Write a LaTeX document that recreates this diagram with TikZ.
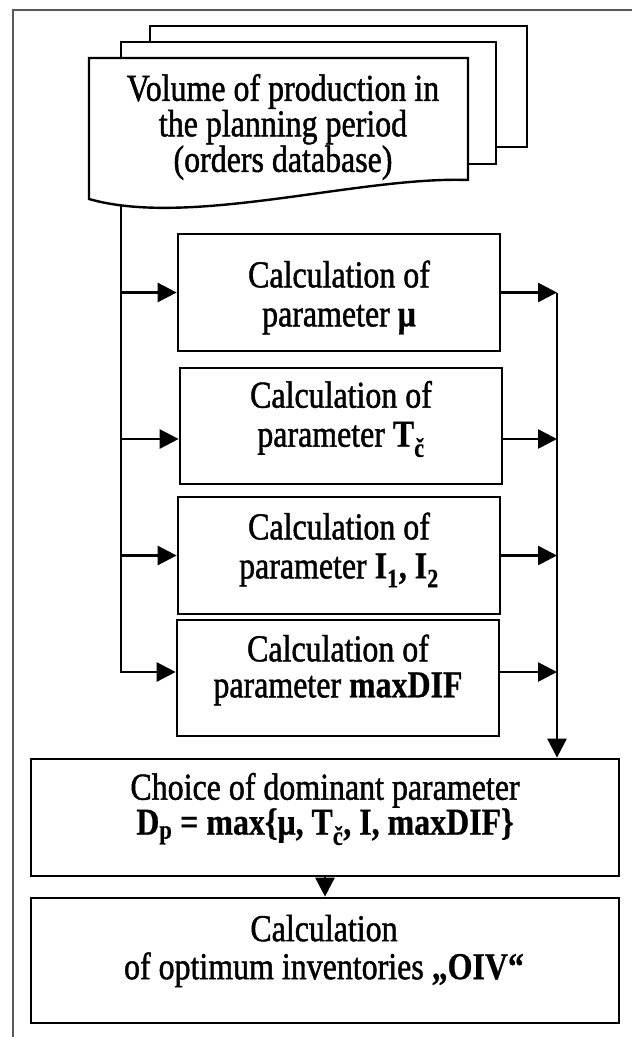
\documentclass[tikz,border=0pt]{standalone}
\usepackage{fontspec}
\setmainfont{Liberation Serif}[FakeStretch=0.84, UprightFeatures={FakeBold=1.2}, BoldFeatures={FakeBold=0.6}]
\usetikzlibrary{arrows.meta}
\begin{document}
\begin{tikzpicture}[x=1pt,y=-1pt,
  line/.style={line width=2.7pt, black},
  docline/.style={line width=2.4pt, black, fill=white, line join=miter},
  box/.style={draw, line width=2.7pt, inner sep=0pt},
  arr/.style={line, -{Triangle[length=19pt,width=19pt]}},
  txt/.style={align=center, inner sep=0pt},
  frameline/.style={line width=1.6pt, black!65}
]
\useasboundingbox (0,0) rectangle (632,1037);

% outer frame (top and left edges)
\draw[frameline] (13,1037) -- (13,10) -- (632,10);

% stack of documents: orders database
\draw[docline] (150,26) rectangle (527,147);
\draw[docline] (121,42) rectangle (496,164);
\draw[docline] (89,199) -- (89,58) -- (468,58) -- (468,180)
  .. controls (360,176) and (190,228) .. (89,199) -- cycle;
\node[txt, font=\fontsize{38}{31}\selectfont] (doctext) at (283,127)
  {Volume of production in\\the planning period\\(orders database)};
\coordinate (docfoot) at (121,205.4);

% parameter calculation boxes
\node[box, minimum width=322pt, minimum height=117pt] (mu)  at (339,292.5) {};
\node[box, minimum width=322pt, minimum height=116pt] (tc)  at (341,426) {};
\node[box, minimum width=322pt, minimum height=117pt] (ii)  at (339,555.5) {};
\node[box, minimum width=322pt, minimum height=116pt] (dif) at (338,678) {};

\node[txt, font=\fontsize{38}{39}\selectfont] (mutext) at (339,297.5)
  {Calculation of\\parameter \textbf{μ}};
\node[txt, font=\fontsize{38}{39}\selectfont] (tctext) at (341,419)
  {Calculation of\\parameter \textbf{T\textsubscript{č}}};
\node[txt, font=\fontsize{38}{39}\selectfont] (iitext) at (339,550)
  {Calculation of\\parameter \textbf{I\textsubscript{1}, I\textsubscript{2}}};
\node[txt, font=\fontsize{38}{36}\selectfont] (diftext) at (338,670)
  {Calculation of\\parameter \textbf{maxDIF}};

% final boxes
\node[box, minimum width=588pt, minimum height=117pt] (choice) at (325,817.5) {};
\node[box, minimum width=588pt, minimum height=125pt] (oiv)    at (325,960.5) {};
\node[txt, font=\fontsize{38}{35}\selectfont] (choicetext) at (325,809)
  {Choice of dominant parameter\\\textbf{D\textsubscript{p} = max\{μ, T\textsubscript{č}, I, maxDIF\}}};
\node[txt, font=\fontsize{38}{38}\selectfont] (oivtext) at (324,951)
  {Calculation\\of optimum inventories \textbf{„OIV“}};

% attachment points of the side connectors
\coordinate (tcin)  at ([yshift=-13pt]tc.west);
\coordinate (tcout) at ([yshift=-13pt]tc.east);
\coordinate (difin)  at ([yshift=6pt]dif.west);
\coordinate (difout) at ([yshift=6pt]dif.east);
\coordinate (bus) at (557,292.5);

% left feed line from the database
\draw[arr] (docfoot) |- (difin);
\draw[arr] (mu.west -| docfoot) -- (mu.west);
\draw[arr] (tcin -| docfoot) -- (tcin);
\draw[arr] (ii.west -| docfoot) -- (ii.west);

% right collecting line
\draw[arr] (mu.east) -- (bus);
\draw[arr] (tcout) -- (tcout -| bus);
\draw[arr] (ii.east) -- (ii.east -| bus);
\draw[arr] (difout) -- (difout -| bus);
\draw[arr] (bus) -- (bus |- choice.north);

\draw[arr] (choice.south) -- (oiv.north);
\end{tikzpicture}
\end{document}
